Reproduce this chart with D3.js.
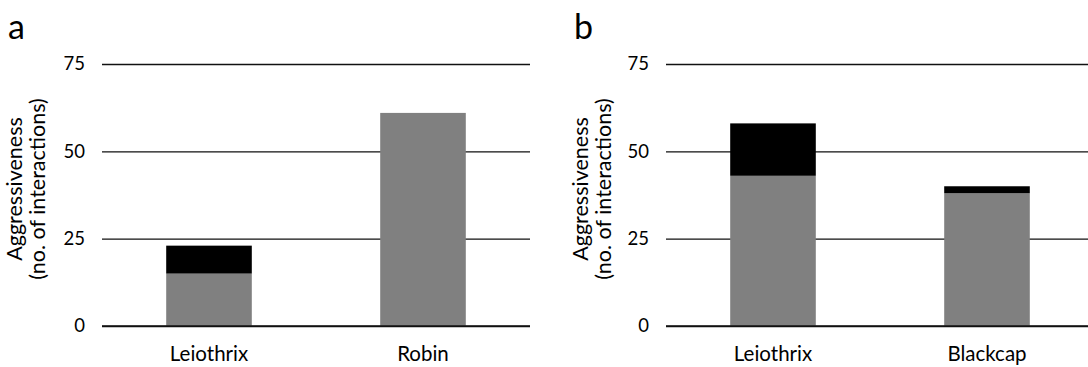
<!DOCTYPE html>
<html>
<head>
<meta charset="utf-8">
<script src="https://cdn.jsdelivr.net/npm/d3@7"></script>
<style>
  html, body { margin: 0; padding: 0; background: #fff; }
  svg text { font-family: "Lato", "Open Sans", sans-serif; fill: #000; }
</style>
</head>
<body>
<svg id="chart" width="1088" height="367"></svg>
<script>
// Panel a: Leiothrix vs Robin
const speciesA = ["Leiothrix", "Robin"];
const baseA = [15, 61];      // grey segment
const extraA = [8, 0];       // black segment stacked on top

// Panel b: Leiothrix vs Blackcap
const speciesB = ["Leiothrix", "Blackcap"];
const baseB = [43, 38];
const extraB = [15, 2];

const yTicks = [0, 25, 50, 75];
const yTitle = ["Aggressiveness", "(no. of interactions)"];

const svg = d3.select("#chart");

function drawPanel(cfg) {
  const { letter, species, base, extra, x0, x1, letterX } = cfg;
  const top = 64, bottom = 326;

  const x = d3.scaleBand().domain(species).range([x0, x1]).paddingInner(0.6).paddingOuter(0.3);
  const y = d3.scaleLinear().domain([0, 75]).range([bottom, top]);

  const g = svg.append("g");

  // horizontal gridlines
  const grid = g.append("g")
    .attr("transform", `translate(${x0},0)`)
    .call(d3.axisLeft(y).tickValues(yTicks).tickSize(-(x1 - x0)).tickFormat(d3.format("d")));
  grid.select(".domain").remove();
  grid.selectAll(".tick line").attr("stroke", "#111").attr("stroke-width", 1.4);
  grid.selectAll(".tick text")
    .attr("x", -17)
    .attr("font-size", 18.5)
    .attr("font-family", "Lato, 'Open Sans', sans-serif")
    .attr("fill", "#000");

  const rows = species.map((s, i) => ({ s, base: base[i], extra: extra[i] }));

  // grey segment
  g.selectAll(".base").data(rows).enter().append("rect")
    .attr("x", d => x(d.s))
    .attr("width", x.bandwidth())
    .attr("y", d => y(d.base))
    .attr("height", d => y(0) - y(d.base))
    .attr("fill", "#808080");

  // black segment
  g.selectAll(".extra").data(rows.filter(d => d.extra > 0)).enter().append("rect")
    .attr("x", d => x(d.s))
    .attr("width", x.bandwidth())
    .attr("y", d => y(d.base + d.extra))
    .attr("height", d => y(d.base) - y(d.base + d.extra))
    .attr("fill", "#000");

  // zero line over bar bottoms
  g.append("line")
    .attr("x1", x0).attr("x2", x1)
    .attr("y1", y(0)).attr("y2", y(0))
    .attr("stroke", "#111").attr("stroke-width", 1.4);

  // category labels
  g.selectAll(".cat").data(species).enter().append("text")
    .attr("x", d => x(d) + x.bandwidth() / 2)
    .attr("y", 361)
    .attr("text-anchor", "middle")
    .attr("font-size", 20.5)
    .text(d => d);

  // y-axis title, two lines rotated
  const ty = g.append("text")
    .attr("transform", `translate(${letterX + 14},${(top + bottom) / 2 - 6}) rotate(-90)`)
    .attr("text-anchor", "middle")
    .attr("font-size", 21.5);
  ty.selectAll("tspan").data(yTitle).enter().append("tspan")
    .attr("x", 0)
    .attr("dy", (d, i) => i === 0 ? 0 : 23)
    .text(d => d);

  // panel letter
  g.append("text")
    .attr("x", letterX)
    .attr("y", 39)
    .attr("font-size", 34)
    .text(letter);
}

drawPanel({ letter: "a", species: speciesA, base: baseA, extra: extraA, x0: 102, x1: 530, letterX: 8 });
drawPanel({ letter: "b", species: speciesB, base: baseB, extra: extraB, x0: 666, x1: 1094, letterX: 574 });
</script>
</body>
</html>
